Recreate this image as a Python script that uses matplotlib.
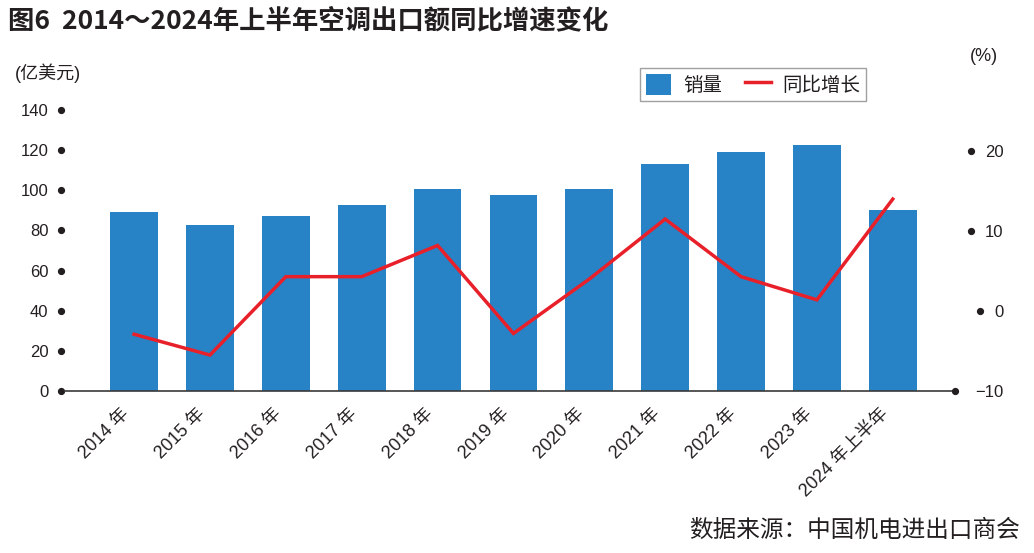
import matplotlib
matplotlib.use("Agg")
import matplotlib.pyplot as plt
import matplotlib.transforms as mtransforms
from matplotlib.patches import Patch
from matplotlib.lines import Line2D

plt.rcParams['font.family'] = ['Liberation Sans', 'Noto Sans CJK SC', 'DejaVu Sans']

# data
years = ['2014 年', '2015 年', '2016 年', '2017 年', '2018 年', '2019 年',
         '2020 年', '2021 年', '2022 年', '2023 年', '2024 年上半年']
export_value = [89.2, 82.7, 87.2, 92.7, 100.6, 97.7, 100.6, 113.1, 119.1, 122.6, 90.2]
yoy_growth = [-2.9, -5.5, 4.3, 4.3, 8.2, -2.8, 4.0, 11.5, 4.3, 1.4, 14.0]
left_ticks = [0, 20, 40, 60, 80, 100, 120, 140]
right_ticks = [-10, 0, 10, 20]

bar_color = '#2782c6'
line_color = '#e8202a'
text_color = '#231f20'

fig = plt.figure(figsize=(10.34, 5.53), dpi=100)
ax = fig.add_axes([0.0629, 0.2929, 0.8607, 0.508])
ax2 = ax.twinx()

x = list(range(len(years)))
ax.bar(x, export_value, width=0.63, color=bar_color, zorder=2)
ax2.plot(x, yoy_growth, color=line_color, lw=2.5, solid_joinstyle='miter', zorder=3)

ax.set_xlim(-0.91, 10.82)
ax.set_ylim(0, 140)
ax2.set_ylim(-10, 25.125)

for a in (ax, ax2):
    for s in ('top', 'left', 'right'):
        a.spines[s].set_visible(False)
ax2.spines['bottom'].set_visible(False)
ax.spines['bottom'].set_color('#3a3a3a')
ax.spines['bottom'].set_linewidth(1.2)

# left axis
ax.set_yticks(left_ticks)
ax.set_yticklabels([str(v) for v in left_ticks], fontsize=12, color=text_color)
ax.tick_params(axis='y', length=0, pad=12)
ax.plot([-0.0045] * len(left_ticks), left_ticks, 'o', ms=4.2, color=text_color,
        transform=ax.get_yaxis_transform(), clip_on=False)

# right axis
ax2.set_yticks(right_ticks)
ax2.set_yticklabels(['−10'] + [str(v) for v in right_ticks[1:]], fontsize=12,
                    color=text_color, ha='right')
ax2.tick_params(axis='y', length=0, pad=35)
ax2.plot([1.0], [-10], marker='o', ms=4.2, color=text_color,
         transform=ax2.get_yaxis_transform(), clip_on=False)

# x axis labels
ax.set_xticks(x)
ax.set_xticklabels(years, rotation=45, ha='right', rotation_mode='anchor',
                   fontsize=13, color=text_color)
ax.tick_params(axis='x', length=0, pad=12)
shift = mtransforms.ScaledTranslation(-13 / 100, 2 / 100, fig.dpi_scale_trans)
for lbl in ax.get_xticklabels():
    lbl.set_transform(lbl.get_transform() + shift)

# units
fig.text(0.014, 0.868, '(亿美元)', fontsize=13, color=text_color, va='center')
fig.text(0.938, 0.898, '(%)', fontsize=13, color=text_color, va='center')

# legend
handles = [Patch(facecolor=bar_color, edgecolor='none'),
           Line2D([0], [0], color=line_color, lw=2.5)]
leg = ax.legend(handles, ['销量', '同比增长'], loc='upper left',
                bbox_to_anchor=(0.6353, 1.185), ncol=2, fontsize=14,
                frameon=True, fancybox=False, handlelength=1.3, handleheight=1.3,
                columnspacing=1.2, handletextpad=0.6, borderpad=0.3)
leg.get_frame().set_edgecolor('#888888')
leg.get_frame().set_linewidth(1.0)
for t in leg.get_texts():
    t.set_color(text_color)

# title and source
fig.text(0.008, 0.962, '图6  2014～2024年上半年空调出口额同比增速变化', fontsize=19,
         fontweight='bold', family=['Noto Sans CJK SC'], color=text_color, va='center')
fig.text(0.986, 0.04, '数据来源：中国机电进出口商会', fontsize=17,
         family=['Noto Sans CJK SC'], color=text_color, ha='right', va='center')

# bullet marks just left of the right-hand tick labels
fig.canvas.draw()
inv = ax2.transAxes.inverted()
for lbl, v in zip(ax2.get_yticklabels()[1:], right_ticks[1:]):
    bb = lbl.get_window_extent()
    xa = inv.transform((bb.x0 - 14, 0))[0]
    ax2.plot([xa], [v], 'o', ms=4.2, color=text_color,
             transform=ax2.get_yaxis_transform(), clip_on=False)

fig.savefig('out.png', dpi=100)
